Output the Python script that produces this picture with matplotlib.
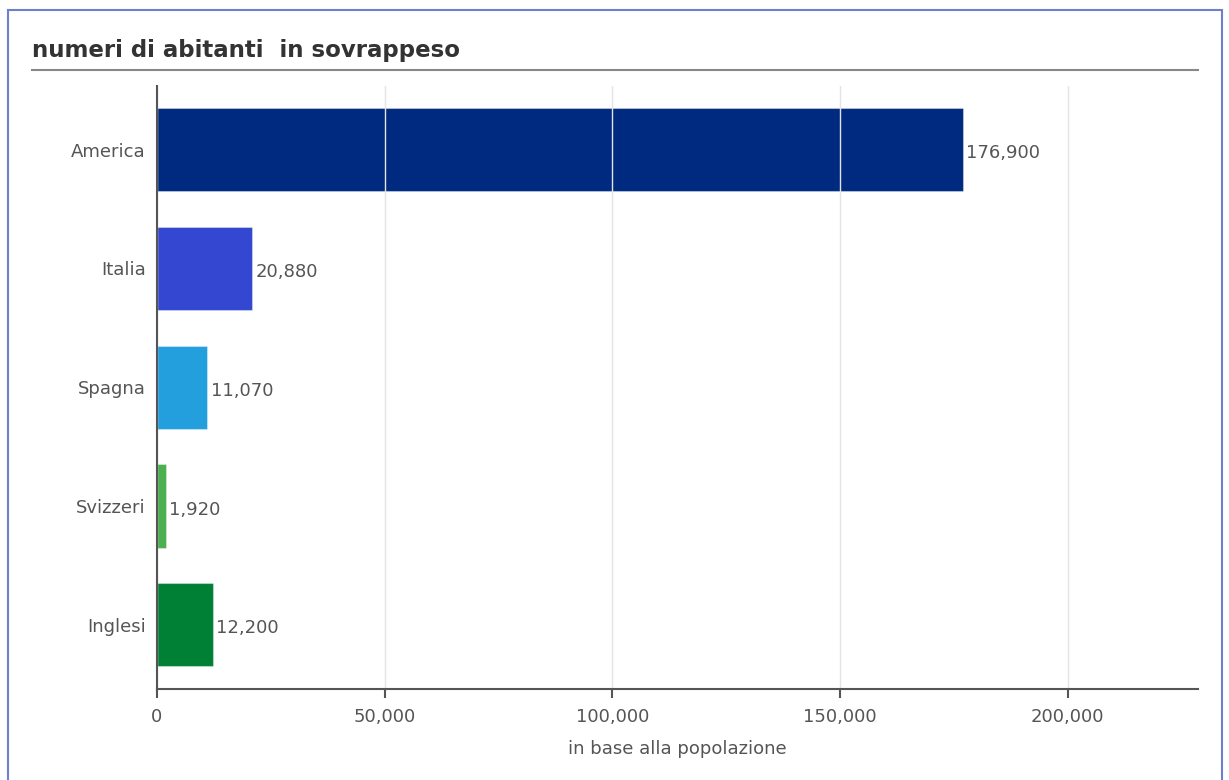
import matplotlib.pyplot as plt
from matplotlib.patches import Rectangle
from matplotlib.lines import Line2D
from matplotlib.ticker import FuncFormatter

#---DATA---#
paesi = ['America', 'Italia', 'Spagna', 'Svizzeri', 'Inglesi']
abitanti = [176900, 20880, 11070, 1920, 12200]
colori = ['#002a80', '#3347d0', '#229fdc', '#4caf50', '#008035']

plt.rcParams['font.family'] = ['DejaVu Sans']

W, H = 1229, 780
fig = plt.figure(figsize=(W / 100, H / 100), dpi=100)

#---FRAME + TITLE---#
fig.patches.append(Rectangle((8 / W, -0.05), (1222 - 8) / W, 1.05 - 10 / H,
                             transform=fig.transFigure, fill=False,
                             edgecolor='#6e7fcc', linewidth=1.5))
fig.text(32 / W, 1 - 51 / H, 'numeri di abitanti  in sovrappeso', fontsize=16.5,
         fontweight='bold', color='#333333', va='center', ha='left')
fig.lines.append(Line2D([32 / W, 1198 / W], [1 - 70 / H, 1 - 70 / H],
                        transform=fig.transFigure, color='#888888', linewidth=1.5))

#---PLOT---#
ax = fig.add_axes([157 / W, 1 - 689 / H, (1198 - 157) / W, (689 - 86) / H])
pos = list(range(len(paesi)))
ax.barh(pos, abitanti, height=0.70, color=colori, zorder=1,
        edgecolor=(1, 1, 1, 0.35), linewidth=0.8)
for p, v in zip(pos, abitanti):
    ax.text(v + 800, p + 0.03, f'{v:,}', va='center', ha='left', fontsize=13, color='#555555')

ax.set_ylim(4.54, -0.535)
ax.set_xlim(0, 228600)
ax.set_yticks(pos)
ax.set_yticklabels(paesi)
ax.set_xticks([0, 50000, 100000, 150000, 200000])
ax.xaxis.set_major_formatter(FuncFormatter(lambda x, _: f'{int(x):,}'))
ax.set_axisbelow(False)
ax.grid(axis='x', color='#e4e4e4', linewidth=1)
for s in ['top', 'right']:
    ax.spines[s].set_visible(False)
for s in ['left', 'bottom']:
    ax.spines[s].set_color('#555555')
    ax.spines[s].set_linewidth(1.5)
    ax.spines[s].set_zorder(3)
ax.tick_params(axis='y', length=0, pad=8, labelsize=13, labelcolor='#555555')
ax.tick_params(axis='x', length=6.5, width=1.5, color='#555555', pad=7,
               labelsize=13, labelcolor='#555555')
ax.set_xlabel('in base alla popolazione', fontsize=13, color='#555555', labelpad=10)

fig.savefig('out.png', dpi=100)
